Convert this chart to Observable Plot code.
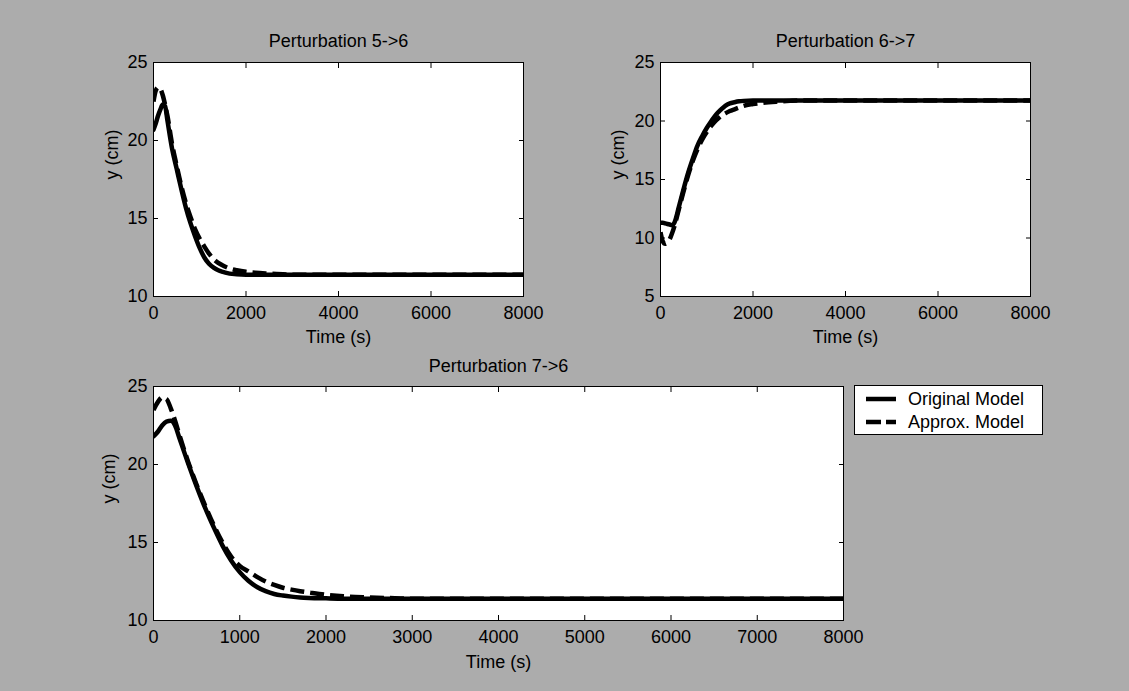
<!DOCTYPE html>
<html>
<head>
<meta charset="utf-8">
<script src="https://cdn.jsdelivr.net/npm/d3@7"></script>
<script src="https://cdn.jsdelivr.net/npm/@observablehq/plot@0.6"></script>
<style>
  html, body { margin: 0; padding: 0; background: #acacac; }
  #fig { position: relative; width: 1129px; height: 691px; background: #acacac; overflow: hidden;
         font-family: "Liberation Sans", Arial, Helvetica, sans-serif; color: #000; }
  .panel { position: absolute; }
  #legend { position: absolute; left: 854px; top: 385px; width: 189px; height: 50px; background: #fff;
            border: 1px solid #000; box-sizing: border-box; }
  #legend .row { position: absolute; left: 11px; height: 22px; display: flex; align-items: center; font-size: 18px; }
  #legend .row svg { margin-right: 12px; }
</style>
</head>
<body>
<div id="fig"></div>
<script>
// ---- data ----
const time = [0, 50, 100, 150, 200, 250, 300, 400, 500, 600, 700, 800, 900, 1000, 1100, 1200, 1300, 1400, 1500, 1600, 1700, 1800, 2000, 2200, 2500, 2800, 3000, 8000];

const orig56   = [20.7, 21.1, 21.6, 22.0, 22.3, 22.2, 21.3, 19.5, 18.2, 16.9, 15.7, 14.7, 13.85, 13.1, 12.5, 12.1, 11.85, 11.68, 11.58, 11.5, 11.45, 11.42, 11.4, 11.4, 11.4, 11.4, 11.4, 11.4];
const approx56 = [22.5, 23.2, 23.4, 23.3, 22.9, 22.3, 21.6, 19.8, 18.4, 17.1, 16.0, 15.1, 14.3, 13.7, 13.2, 12.75, 12.4, 12.15, 11.98, 11.85, 11.75, 11.68, 11.58, 11.52, 11.47, 11.43, 11.4, 11.4];

const orig67   = [11.3, 11.3, 11.25, 11.2, 11.15, 11.1, 11.3, 12.7, 14.2, 15.6, 16.8, 17.9, 18.7, 19.4, 20.0, 20.55, 20.95, 21.3, 21.5, 21.6, 21.68, 21.72, 21.75, 21.75, 21.75, 21.75, 21.75, 21.75];
const approx67 = [10.5, 9.7, 9.5, 9.6, 9.9, 10.4, 11.0, 12.5, 14.0, 15.4, 16.6, 17.6, 18.4, 19.05, 19.6, 20.05, 20.4, 20.65, 20.85, 21.0, 21.15, 21.3, 21.45, 21.55, 21.65, 21.72, 21.75, 21.75];

const orig76   = [21.8, 22.1, 22.5, 22.75, 22.8, 22.5, 21.7, 20.1, 18.6, 17.2, 15.95, 14.8, 13.85, 13.1, 12.55, 12.15, 11.88, 11.7, 11.6, 11.53, 11.48, 11.45, 11.42, 11.4, 11.4, 11.4, 11.4, 11.4];
const approx76 = [23.5, 24.0, 24.3, 24.2, 23.6, 22.8, 21.9, 20.2, 18.7, 17.35, 16.1, 15.0, 14.1, 13.5, 13.15, 12.8, 12.5, 12.28, 12.1, 11.98, 11.88, 11.8, 11.65, 11.55, 11.48, 11.43, 11.4, 11.4];

const titles = ["Perturbation 5->6", "Perturbation 6->7", "Perturbation 7->6"];
const xLabel = "Time (s)";
const yLabel = "y (cm)";
const seriesNames = ["Original Model", "Approx. Model"];

const xTicksTop = [0, 2000, 4000, 6000, 8000];
const xTicksBottom = [0, 1000, 2000, 3000, 4000, 5000, 6000, 7000, 8000];
const yTicks56 = [10, 15, 20, 25];
const yTicks67 = [5, 10, 15, 20, 25];
const yTicks76 = [10, 15, 20, 25];

// ---- drawing ----
const fig = document.getElementById("fig");
const FONT = "'Liberation Sans', Arial, Helvetica, sans-serif";

function toRows(vals) { return time.map((t, i) => ({t, v: vals[i]})); }

function panel(cfg) {
  const chart = Plot.plot({
    width: cfg.width, height: cfg.height,
    marginTop: cfg.mt, marginRight: cfg.mr, marginBottom: cfg.mb, marginLeft: cfg.ml,
    style: {background: "transparent", fontFamily: FONT, fontSize: "18px", color: "#000", overflow: "visible"},
    x: {domain: [0, 8000]},
    y: {domain: [cfg.yTicks[0], cfg.yTicks[cfg.yTicks.length - 1]]},
    marks: [
      Plot.frame({fill: "white", stroke: null}),
      Plot.axisX(cfg.xTicks, {anchor: "bottom", tickSize: -5, tickPadding: 15, tickFormat: "d", label: null, fontSize: 18}),
      Plot.axisX(cfg.xTicks, {anchor: "top", tickSize: -5, tickFormat: () => "", label: null}),
      Plot.axisY(cfg.yTicks, {anchor: "left", tickSize: -5, tickPadding: 11, tickFormat: "d", label: null, fontSize: 18}),
      Plot.axisY(cfg.yTicks, {anchor: "right", tickSize: -5, tickFormat: () => "", label: null}),
      Plot.line(toRows(cfg.orig), {x: "t", y: "v", stroke: "black", strokeWidth: 4.5, curve: "monotone-x", clip: true}),
      Plot.line(toRows(cfg.approx), {x: "t", y: "v", stroke: "black", strokeWidth: 4.5, curve: "monotone-x",
        strokeDasharray: "14,6", strokeLinecap: "butt", clip: true}),
      Plot.frame({stroke: "black", strokeWidth: 1}),
      Plot.text([cfg.title], {frameAnchor: "top", dy: cfg.titleDy, fontSize: 18, lineAnchor: "middle"}),
      Plot.text([xLabel], {frameAnchor: "bottom", dy: cfg.xLabelDy, fontSize: 18, lineAnchor: "middle"}),
      Plot.text([yLabel], {frameAnchor: "left", dx: cfg.yLabelDx, rotate: -90, fontSize: 18, lineAnchor: "middle"})
    ]
  });
  chart.classList.add("panel");
  chart.style.left = cfg.left + "px";
  chart.style.top = cfg.top + "px";
  fig.appendChild(chart);
}

panel({left: 0, top: 0, width: 565, height: 345, mt: 62, mr: 42, mb: 49, ml: 153,
  xTicks: xTicksTop, yTicks: yTicks56, orig: orig56, approx: approx56, title: titles[0],
  titleDy: -21, xLabelDy: 41, yLabelDx: -41});

panel({left: 565, top: 0, width: 564, height: 345, mt: 62, mr: 99, mb: 49, ml: 95,
  xTicks: xTicksTop, yTicks: yTicks67, orig: orig67, approx: approx67, title: titles[1],
  titleDy: -21, xLabelDy: 41, yLabelDx: -42});

panel({left: 0, top: 345, width: 1129, height: 346, mt: 41, mr: 286, mb: 71, ml: 153,
  xTicks: xTicksBottom, yTicks: yTicks76, orig: orig76, approx: approx76, title: titles[2],
  titleDy: -20, xLabelDy: 42, yLabelDx: -44});

// legend
const legend = document.createElement("div");
legend.id = "legend";
const dashes = [null, "15,5"];
seriesNames.forEach((name, i) => {
  const row = document.createElement("div");
  row.className = "row";
  row.style.top = (2 + i * 23) + "px";
  row.innerHTML = `<svg width="30" height="10"><line x1="0" x2="30" y1="5" y2="5" stroke="black" stroke-width="4.5"${dashes[i] ? ` stroke-dasharray="${dashes[i]}"` : ""}/></svg><span>${name}</span>`;
  legend.appendChild(row);
});
fig.appendChild(legend);
</script>
</body>
</html>
